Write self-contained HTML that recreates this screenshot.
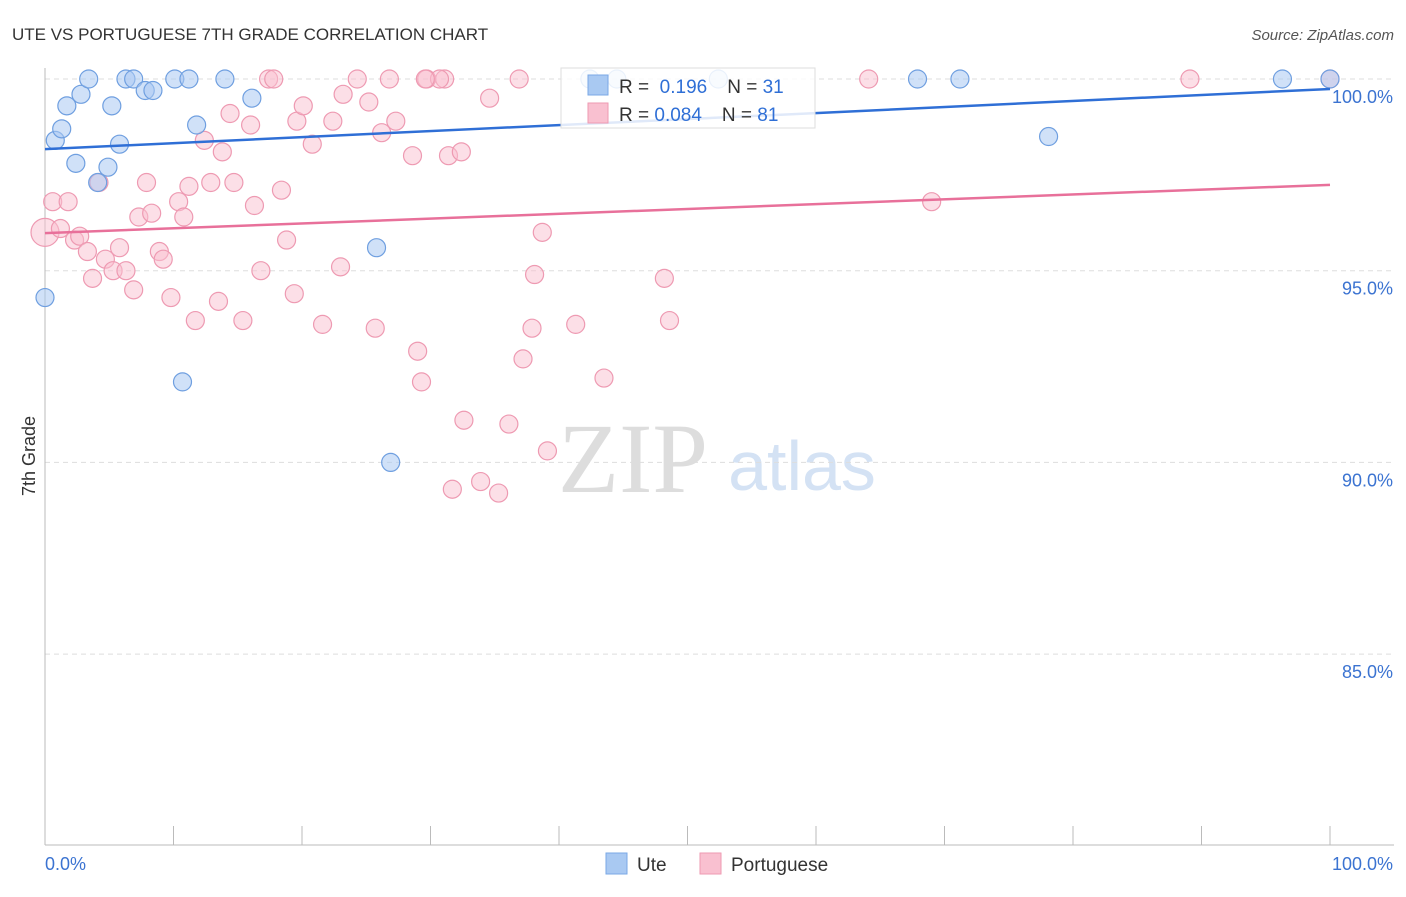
<!DOCTYPE html>
<html><head><meta charset="utf-8"><style>
body{margin:0;background:#fff;font-family:"Liberation Sans",sans-serif;}
</style></head><body>
<svg width="1406" height="892" font-family="Liberation Sans, sans-serif">
<text x="12" y="40" font-size="17" fill="#333">UTE VS PORTUGUESE 7TH GRADE CORRELATION CHART</text>
<text x="1394" y="40" font-size="15" fill="#555" font-style="italic" text-anchor="end">Source: ZipAtlas.com</text>
<g><text x="633" y="492" font-size="100" fill="#ddd" style="font-family:'Liberation Serif',serif" text-anchor="middle">ZIP</text><text x="802" y="490" font-size="70" fill="#d4e2f4" text-anchor="middle">atlas</text></g>
<g id="grid"></g><g id="axes"></g><g id="pts"></g><g id="lines"></g>
<text x="35" y="456" font-size="18" fill="#333" transform="rotate(-90 35 456)" text-anchor="middle">7th Grade</text>
<g>
<rect x="561" y="68" width="254" height="60" fill="#fff" fill-opacity="0.85" stroke="#ddd"/>
<rect x="588" y="75" width="20" height="20" fill="#a9c9f2" stroke="#7aa8e6"/>
<rect x="588" y="103" width="20" height="20" fill="#f9c0d0" stroke="#ee9ab2"/>
<text x="619" y="93" font-size="19" fill="#333">R = <tspan fill="#2f6fd6">&#160;0.196</tspan><tspan dx="20">N = </tspan><tspan fill="#2f6fd6">31</tspan></text>
<text x="619" y="121" font-size="19" fill="#333">R = <tspan fill="#2f6fd6">0.084</tspan><tspan dx="20">N = </tspan><tspan fill="#2f6fd6">81</tspan></text>
</g>
<g>
<rect x="606" y="853" width="21" height="21" fill="#a9c9f2" stroke="#7aa8e6"/><text x="637" y="871" font-size="19" fill="#333">Ute</text>
<rect x="700" y="853" width="21" height="21" fill="#f9c0d0" stroke="#ee9ab2"/><text x="731" y="871" font-size="19" fill="#333">Portuguese</text>
</g>
</svg>
<script>
const yTicks=[100,95,90,85];
const yTickLabels=["100.0%","95.0%","90.0%","85.0%"];
const uteX=[0,0.8,1.3,1.7,2.4,2.8,3.4,4.1,4.9,5.2,5.8,6.3,6.9,7.8,8.4,10.1,11.2,10.7,11.8,14.0,16.1,25.8,26.9,42.4,44.5,52.4,67.9,71.2,78.1,96.3,100];
const uteY=[94.3,98.4,98.7,99.3,97.8,99.6,100,97.3,97.7,99.3,98.3,100,100,99.7,99.7,100,100,92.1,98.8,100,99.5,95.6,90.0,100,100,100,100,100,98.5,100,100];
const porX=[0,0.6,1.2,1.8,2.3,2.7,3.3,3.7,4.2,4.7,5.3,5.8,6.3,6.9,7.3,7.9,8.3,8.9,9.2,9.8,10.4,10.8,11.2,11.7,12.4,12.9,13.5,13.8,14.4,14.7,15.4,16.0,16.3,16.8,17.4,17.8,18.4,18.8,19.4,19.6,20.1,20.8,21.6,22.4,23.0,23.2,24.3,25.2,25.7,26.2,26.8,27.3,28.6,29.0,29.3,29.7,31.1,31.4,31.7,32.4,32.6,33.9,34.6,35.3,36.1,36.9,37.2,37.9,38.1,38.7,39.1,41.3,43.5,48.2,48.6,64.1,69.0,89.1,100,30.7,29.6];
const porY=[96.0,96.8,96.1,96.8,95.8,95.9,95.5,94.8,97.3,95.3,95.0,95.6,95.0,94.5,96.4,97.3,96.5,95.5,95.3,94.3,96.8,96.4,97.2,93.7,98.4,97.3,94.2,98.1,99.1,97.3,93.7,98.8,96.7,95.0,100,100,97.1,95.8,94.4,98.9,99.3,98.3,93.6,98.9,95.1,99.6,100,99.4,93.5,98.6,100,98.9,98.0,92.9,92.1,100,100,98.0,89.3,98.1,91.1,89.5,99.5,89.2,91.0,100,92.7,93.5,94.9,96.0,90.3,93.6,92.2,94.8,93.7,100,96.8,100,100,100,100];
const uteLine=[98.17,99.74];
const porLine=[95.98,97.24];
const X=v=>45+v*12.85, Y=v=>79+(100-v)*38.34;
const ns="http://www.w3.org/2000/svg";
function mk(p,t,a){const e=document.createElementNS(ns,t);for(const k in a)e.setAttribute(k,a[k]);document.getElementById(p).appendChild(e);return e;}
yTicks.forEach((t,i)=>{
 const g=mk('grid','line',{x1:45,x2:1394,y1:Y(t),y2:Y(t),stroke:'#ddd','stroke-dasharray':'5,4'});
 
 
 const l=mk('axes','text',{x:1393,y:Y(t)+24,'font-size':18,fill:'#3b73d1','text-anchor':'end'});l.textContent=yTickLabels[i];
 
 
});
const ax=mk('axes','line',{x1:45,x2:45,y1:68,y2:845,stroke:'#bbb'});


const bx=mk('axes','line',{x1:45,x2:1394,y1:845,y2:845,stroke:'#bbb'});


for(let i=0;i<=10;i++){const t=mk('axes','line',{x1:X(i*10),x2:X(i*10),y1:826,y2:845,stroke:'#bbb'});
 
 }
[["0.0%",45,"start"],["100.0%",1393,"end"]].forEach(a=>{const t=mk('axes','text',{x:a[1],y:870,'font-size':18,fill:'#3b73d1','text-anchor':a[2]});t.textContent=a[0];
 
 });
porX.forEach((x,i)=>{const c=mk('pts','circle',{cx:X(x),cy:Y(porY[i]),r:i==0?14:9,fill:'#f9c0d0','fill-opacity':0.5,stroke:'#ee9ab2','stroke-width':1.2});
 
 });
uteX.forEach((x,i)=>{const c=mk('pts','circle',{cx:X(x),cy:Y(uteY[i]),r:9,fill:'#a9c9f2','fill-opacity':0.55,stroke:'#6f9fe0','stroke-width':1.2});
 
 });
const l1=mk('lines','line',{x1:X(0),x2:X(100),y1:Y(uteLine[0]),y2:Y(uteLine[1]),stroke:'#2f6fd6','stroke-width':2.5});


const l2=mk('lines','line',{x1:X(0),x2:X(100),y1:Y(porLine[0]),y2:Y(porLine[1]),stroke:'#e8709a','stroke-width':2.5});


</script>
</body></html>
